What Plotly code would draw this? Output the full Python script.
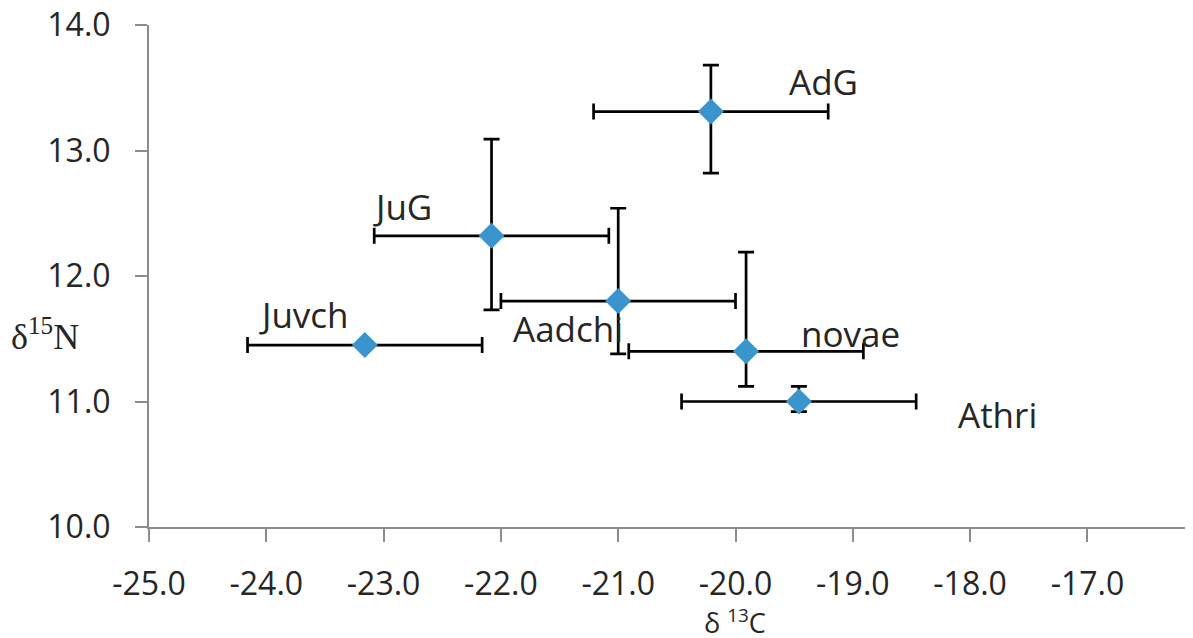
import plotly.graph_objects as go

# ---- data ----
groups = ["AdG", "JuG", "Aadchi", "novae", "Athri", "Juvch"]
d13C = [-20.21, -22.08, -21.00, -19.91, -19.46, -23.16]
d15N = [13.31, 12.32, 11.80, 11.40, 11.00, 11.45]
d13C_err = [1.00, 1.00, 1.00, 1.00, 1.00, 1.00]
d15N_err_plus = [0.37, 0.77, 0.74, 0.79, 0.12, 0.00]
d15N_err_minus = [0.49, 0.59, 0.42, 0.28, 0.08, 0.00]

x_ticks = [-25, -24, -23, -22, -21, -20, -19, -18, -17]
y_ticks = [10, 11, 12, 13, 14]

# label placements (data coords of the text centres)
label_x = [-19.25, -22.84, -21.43, -19.02, -17.77, -23.68]
label_y = [13.551, 12.555, 11.582, 11.543, 10.897, 11.694]

AXIS_COLOR = "#8c8c8c"
TEXT_COLOR = "#262626"
FONT = "Open Sans"

fig = go.Figure()
fig.add_trace(go.Scatter(
    x=d13C, y=d15N, mode="markers",
    marker=dict(symbol="diamond", size=20, color="#3A95CF", line=dict(width=0)),
    error_x=dict(type="data", array=d13C_err, symmetric=True,
                 color="black", thickness=2.7, width=8),
    error_y=dict(type="data", array=d15N_err_plus, arrayminus=d15N_err_minus,
                 symmetric=False, color="black", thickness=2.7, width=8),
    showlegend=False, hoverinfo="x+y",
))

for name, lx, ly in zip(groups, label_x, label_y):
    fig.add_annotation(x=lx, y=ly, xref="x", yref="y", text=name, showarrow=False,
                       xanchor="center", yanchor="middle",
                       font=dict(family=FONT, size=35, color=TEXT_COLOR))

# axis titles
fig.add_annotation(x=-0.0996, y=0.3825, xref="paper", yref="paper",
                   text="δ<sup>15</sup>N", showarrow=False,
                   xanchor="center", yanchor="middle",
                   font=dict(family="Liberation Serif", size=36, color=TEXT_COLOR))
fig.add_annotation(x=0.561, y=-0.189, xref="paper", yref="paper",
                   text="δ <sup>13</sup>C", showarrow=False,
                   xanchor="center", yanchor="middle",
                   font=dict(family=FONT, size=27, color=TEXT_COLOR))

fig.update_layout(
    width=1185, height=630,
    margin=dict(l=141, r=0, t=17, b=111, autoexpand=False),
    paper_bgcolor="white", plot_bgcolor="white",
    font=dict(family=FONT, color=TEXT_COLOR),
    xaxis=dict(range=[-25, -16.1], tickvals=x_ticks,
               ticktext=[f"{v:.1f}" for v in x_ticks],
               showgrid=False, zeroline=False, showline=True,
               linecolor=AXIS_COLOR, linewidth=2, automargin=False,
               ticks="outside", ticklen=13, tickwidth=2, tickcolor=AXIS_COLOR,
               tickfont=dict(family=FONT, size=32, color=TEXT_COLOR),
               ticklabelstandoff=15),
    yaxis=dict(range=[10, 14], tickvals=y_ticks,
               ticktext=[f"{v:.1f}" for v in y_ticks],
               showgrid=False, zeroline=False, showline=True,
               linecolor=AXIS_COLOR, linewidth=2, automargin=False,
               ticks="outside", ticklen=12, tickwidth=2, tickcolor=AXIS_COLOR,
               tickfont=dict(family=FONT, size=32, color=TEXT_COLOR),
               ticklabelstandoff=18, ticklabeloverflow="allow"),
)

fig.write_html("out.html")
